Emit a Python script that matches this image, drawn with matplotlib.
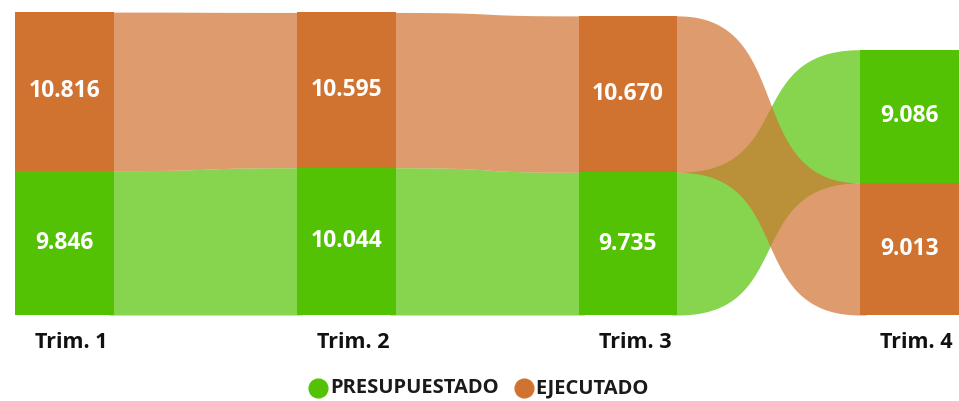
import matplotlib
matplotlib.use('Agg')  # sin GUI

import matplotlib.pyplot as plt
import numpy as np

# -------------------------------------------------------------------------------
# Datos
trimestres = ['Trim. 1', 'Trim. 2', 'Trim. 3', 'Trim. 4']
series = ['PRESUPUESTADO', 'EJECUTADO']
presupuestado = [9846, 10044, 9735, 9086]
ejecutado = [10816, 10595, 10670, 9013]

colores = {'PRESUPUESTADO': '#54C204', 'EJECUTADO': '#D17330'}
# -------------------------------------------------------------------------------

plt.rcParams['font.family'] = ['Open Sans', 'DejaVu Sans']

ancho = 0.351  # ancho de cada barra (en unidades de categoria)
k = 0.65       # tension de la curva de las cintas


# Formato con punto de miles
def fmt(v):
  return '{:,}'.format(v).replace(',', '.')


# Apila los valores de un trimestre: el mayor queda arriba
def apilar(i):
  vals = {'PRESUPUESTADO': presupuestado[i], 'EJECUTADO': ejecutado[i]}
  orden = sorted(vals, key=lambda s: vals[s])
  pos = {}
  base = 0
  for s in orden:
    pos[s] = (base, base + vals[s])
    base += vals[s]
  return pos


# Cinta curva entre dos barras (bezier cubica); se mete un poco bajo las barras
def cinta(ax, x0, x1, b0, t0, b1, t1, color, z):
  t = np.linspace(0, 1, 400)
  fx = 3 * k * t * (1 - t) ** 2 + 3 * (1 - k) * t ** 2 * (1 - t) + t ** 3
  xs = x0 + (x1 - x0) * fx
  s = 3 * t ** 2 - 2 * t ** 3
  yb = b0 + (b1 - b0) * s
  yt = t0 + (t1 - t0) * s
  d = 0.02
  xs = np.concatenate([[x0 - d], xs, [x1 + d]])
  yb = np.concatenate([[b0], yb, [b1]])
  yt = np.concatenate([[t0], yt, [t1]])
  ax.fill_between(xs, yb, yt, color=color, alpha=0.7, lw=0, zorder=z)


fig = plt.figure(figsize=(9.59, 4.01), dpi=100)
ax = fig.add_axes([0, 0, 1, 1])
ax.set_xlim(-0.229, 3.175)
ax.set_ylim(-5866, 21487)
ax.axis('off')

pilas = [apilar(i) for i in range(len(trimestres))]

# Cintas (verde primero, naranja encima)
for z, serie in enumerate(series):
  for i in range(len(trimestres) - 1):
    b0, t0 = pilas[i][serie]
    b1, t1 = pilas[i + 1][serie]
    cinta(ax, i + ancho / 2, i + 1 - ancho / 2, b0, t0, b1, t1,
          colores[serie], 1 + z)

# Barras y etiquetas
for i, nombre in enumerate(trimestres):
  for serie in series:
    b, t = pilas[i][serie]
    ax.bar(i, t - b, bottom=b, width=ancho, color=colores[serie],
           lw=0, zorder=3)
    ax.text(i, (b + t) / 2, fmt(t - b), ha='center', va='center',
            color='white', fontsize=16.5, fontweight='bold', zorder=4)
  ax.text(i + 0.025, -1850, nombre, ha='center', va='center',
          color='#111111', fontsize=15.5, fontweight='bold')

# Leyenda
y_ley = 13 / 401
for xc, xt, serie in [(318, 330, 'PRESUPUESTADO'), (524, 535, 'EJECUTADO')]:
  ax.plot(xc / 959, y_ley, 'o', ms=13.5, color=colores[serie],
          transform=ax.transAxes, clip_on=False)
  ax.text(xt / 959, y_ley, serie, transform=ax.transAxes, ha='left',
          va='center', color='#1a1a1a', fontsize=14.5, fontweight='bold')

plt.savefig('out.png', dpi=100)
plt.close('all')
